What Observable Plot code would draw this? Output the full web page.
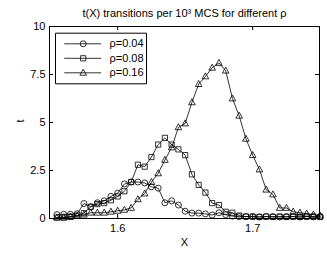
<!DOCTYPE html>
<html><head><meta charset="utf-8">
<script src="https://cdn.jsdelivr.net/npm/d3@7"></script>
<script src="https://cdn.jsdelivr.net/npm/@observablehq/plot@0.6"></script>
<style>body{margin:0;background:#fff}</style>
</head><body><div id="chart"></div>
<script>
const xValues = [1.555,1.560,1.565,1.570,1.575,1.580,1.585,1.590,1.595,1.600,
  1.605,1.610,1.615,1.620,1.625,1.630,1.635,1.640,1.645,1.650,
  1.655,1.660,1.665,1.670,1.675,1.680,1.685,1.690,1.695,1.700,
  1.705,1.710,1.715,1.720,1.725,1.730,1.735,1.740,1.745,1.750];
const rho004 = [0.2,0.22,0.22,0.25,0.78,0.62,0.82,0.92,1.15,1.32,
  1.8,1.9,1.9,1.85,1.65,1.58,0.82,0.92,0.7,0.38,
  0.28,0.28,0.24,0.18,0.3,0.2,0.12,0.1,0.1,0.1,
  0.08,0.1,0.1,0.08,0.1,0.1,0.08,0.1,0.08,0.1];
const rho008 = [0.05,0.05,0.08,0.15,0.28,0.6,0.75,0.8,0.95,1.15,
  1.42,1.9,2.8,2.7,3.2,3.85,4.2,3.85,3.6,3.3,
  2.3,1.75,1.35,0.8,0.7,0.35,0.3,0.15,0.1,0.1,
  0.08,0.1,0.08,0.1,0.08,0.1,0.08,0.1,0.1,0.08];
const rho016 = [0.05,0.05,0.1,0.15,0.2,0.3,0.3,0.3,0.35,0.4,
  0.45,0.55,1.0,1.3,1.9,2.35,3.05,3.7,4.75,4.95,
  6.05,7.0,7.4,7.85,8.1,7.7,6.25,5.35,4.15,3.3,
  2.55,1.5,1.25,0.55,0.55,0.35,0.3,0.25,0.2,0.15];
const seriesNames = ["ρ=0.04","ρ=0.08","ρ=0.16"];
const yTicks = [0,2.5,5,7.5,10];
const yTickLabels = ["0","2.5","5","7.5","10"];
const xTicks = [1.6,1.7];
const xTickLabels = ["1.6","1.7"];
const titleText = "t(X) transitions per 10³ MCS for different ρ";
const xLabel = "X";
const yLabel = "t";

const W = 327, H = 257, mT = 26, mR = 8, mB = 39, mL = 49;
const fW = W - mL - mR, fH = H - mT - mB;

const symCircle = {draw(c){c.moveTo(3,0);c.arc(0,0,3,0,2*Math.PI);}};
const symSquare = {draw(c){c.rect(-2.6,-2.6,5.2,5.2);}};
const symTriangle = {draw(c){c.moveTo(0,-3.6);c.lineTo(3.3,2.4);c.lineTo(-3.3,2.4);c.closePath();}};
const symbols = [symCircle, symSquare, symTriangle];
const withLine = sym => ({draw(c,s){c.moveTo(-19,0);c.lineTo(18,0);sym.draw(c,s);}});
const legendBox = {draw(c){c.rect(-45.5,-25.3,91,50.6);}};

const series = [rho004, rho008, rho016];
const rows = series.flatMap((vals, s) => xValues.map((x, i) => ({x, y: vals[i], s: seriesNames[s]})));

const marks = [
  Plot.frame({stroke: "black", strokeWidth: 1}),
  Plot.tickX(xTicks, {x: d => d, insetTop: fH - 4, stroke: "black"}),
  Plot.tickX(xTicks, {x: d => d, insetBottom: fH - 4, stroke: "black"}),
  Plot.tickY(yTicks, {y: d => d, insetRight: fW - 4, stroke: "black"}),
  Plot.tickY(yTicks, {y: d => d, insetLeft: fW - 4, stroke: "black"}),
  Plot.axisX(xTicks, {tickSize: 0, tickPadding: 6, label: null, fontSize: 11, tickFormat: d => xTickLabels[xTicks.indexOf(d)]}),
  Plot.axisY(yTicks, {tickSize: 0, tickPadding: 4, label: null, fontSize: 11, tickFormat: d => yTickLabels[yTicks.indexOf(d)]}),
  Plot.line(rows, {x: "x", y: "y", z: "s", stroke: "black", strokeWidth: 0.8})
];
seriesNames.forEach((name, k) => {
  marks.push(Plot.dot(rows.filter(r => r.s === name), {x: "x", y: "y", symbol: symbols[k], stroke: "black", strokeWidth: 0.8, fill: "none"}));
});
marks.push(Plot.dot([0], {frameAnchor: "top-left", dx: 51.5, dy: 32, symbol: legendBox, stroke: "black", fill: "white", strokeWidth: 1}));
const rowDy = [17.3, 31.8, 46.3];
seriesNames.forEach((name, k) => {
  marks.push(Plot.dot([name], {frameAnchor: "top-left", dx: 33.7, dy: rowDy[k], symbol: withLine(symbols[k]), stroke: "black", strokeWidth: 0.8, fill: "none"}));
  marks.push(Plot.text([name], {frameAnchor: "top-left", dx: 60, dy: rowDy[k], textAnchor: "start", lineAnchor: "middle", fontSize: 11, fill: "black"}));
});
marks.push(Plot.text([titleText], {frameAnchor: "top", dy: -13.5, lineAnchor: "middle", fontSize: 11, fill: "black"}));
marks.push(Plot.text([xLabel], {frameAnchor: "bottom", dy: 24, lineAnchor: "middle", fontSize: 11, fill: "black"}));
marks.push(Plot.text([yLabel], {frameAnchor: "left", dx: -29, lineAnchor: "middle", fontSize: 11, fill: "black", rotate: -90}));

const chart = Plot.plot({
  width: W, height: H,
  marginTop: mT, marginRight: mR, marginBottom: mB, marginLeft: mL,
  style: {fontFamily: "'Liberation Sans', Arial, sans-serif", fontSize: "11px", background: "white", color: "black"},
  x: {domain: [1.5495, 1.7495]},
  y: {domain: [0, 10]},
  marks
});
document.getElementById("chart").appendChild(chart);
</script>
</body></html>
